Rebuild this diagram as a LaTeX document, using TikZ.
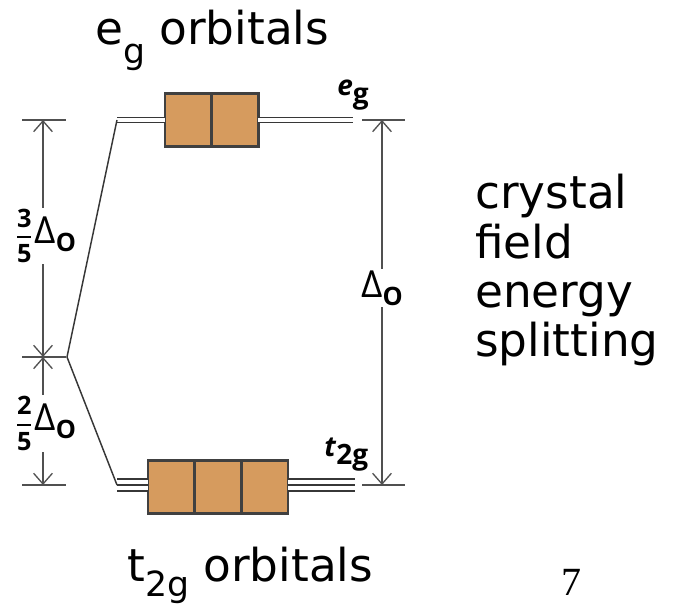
\documentclass[tikz,border=0pt]{standalone}
\usepackage{amsmath}
\usepackage{fontspec}
\setmainfont{DejaVu Sans}
\newfontfamily\symfont{Open Sans}
\newfontfamily\pagenofont{Liberation Serif}
\usetikzlibrary{arrows.meta, positioning}

\definecolor{boxorange}{RGB}{214,155,94}
\definecolor{boxedge}{RGB}{64,64,64}
\definecolor{linegrey}{RGB}{55,55,55}
\definecolor{dimgrey}{RGB}{80,80,80}

% Delta_O and the fractions of it
\newcommand{\deltao}{{\symfont\fontsize{28}{28}\selectfont Δ\raisebox{-0.4ex}{\fontsize{19}{19}\selectfont\bfseries O}}}
\newcommand{\fracpart}[2]{{\symfont\bfseries\fontsize{19}{19}\selectfont
  $\genfrac{}{}{1.6pt}{0}{\mbox{#1}}{\mbox{#2}}$\hspace{1pt}}}

\begin{document}
\begin{tikzpicture}[
    x=0.75pt, y=-0.75pt,
    orbital/.style={rectangle, draw=boxedge, line width=2pt, fill=boxorange, minimum width=35pt, minimum height=40pt, inner sep=0pt, outer sep=0pt},
    levelline/.style={draw=linegrey, line width=1.1pt},
    twofold/.style={levelline, double=white, double distance=2.8pt},
    threefold/.style={levelline, double=white, double distance=7.6pt},
    dimline/.style={draw=dimgrey, line width=1pt, {Straight Barb[length=8pt,width=14pt]}-{Straight Barb[length=8pt,width=14pt]}},
    tickline/.style={draw=dimgrey, line width=1.2pt},
    big/.style={font=\fontsize{34}{37.5}\selectfont, inner sep=0pt},
    lab/.style={fill=white, inner sep=1pt}
]
    \useasboundingbox (0,0) rectangle (675,605);

    % e_g set (two boxes)
    \node[orbital] (e1) at (188.3,120) {};
    \node[orbital, right=0pt of e1] (e2) {};

    % t_2g set (three boxes)
    \node[orbital] (t1) at (171.3,487) {};
    \node[orbital, right=0pt of t1] (t2) {};
    \node[orbital, right=0pt of t2] (t3) {};

    % Level ends and split point
    \coordinate (egL) at (117,120);
    \coordinate (egR) at (353,120);
    \coordinate (t2gL) at (117,485);
    \coordinate (t2gR) at (355,485);
    \coordinate (split) at (67,357);

    % Levels
    \draw[twofold] (egL) -- (e1.west |- egL);
    \draw[twofold] (e2.east |- egR) -- (egR);
    \draw[threefold] (t2gL) -- (t1.west |- t2gL);
    \draw[levelline] (t2gL) -- (t1.west |- t2gL);
    \draw[threefold] (t3.east |- t2gR) -- (t2gR);
    \draw[levelline] (t3.east |- t2gR) -- (t2gR);
    \draw[levelline] (egL) -- (split) -- (t2gL);

    % Level labels
    \node[anchor=base west, inner sep=0pt] (eglab) at (337,96)
        {\symfont\bfseries\fontsize{21}{21}\selectfont\textit{e}\raisebox{-0.5ex}{g}};
    \node[anchor=base west, inner sep=0pt] (t2glab) at (324,457)
        {\symfont\bfseries\fontsize{21}{21}\selectfont\textit{t}\raisebox{-0.5ex}{2g}};

    % Left dimension
    \coordinate (dimTopL) at (43,120);
    \coordinate (dimMidL) at (43,357);
    \coordinate (dimBotL) at (43,485);
    \draw[tickline] (22,120) -- (66,120);
    \draw[tickline] (22,357) -- (66,357);
    \draw[tickline] (22,485) -- (66,485);
    \draw[dimline] (dimTopL) -- node[lab, pos=0.49, xshift=2pt] (lab35) {\fracpart{3}{5}\deltao} (dimMidL);
    \draw[dimline] (dimMidL) -- node[lab, pos=0.52, xshift=2pt] (lab25) {\fracpart{2}{5}\deltao} (dimBotL);

    % Right dimension
    \coordinate (dimTopR) at (382,120);
    \coordinate (dimBotR) at (382,485);
    \draw[tickline] (362,120) -- (405,120);
    \draw[tickline] (362,485) -- (405,485);
    \draw[dimline] (dimTopR) -- node[lab, pos=0.46] (labdo) {\deltao} (dimBotR);

    % Titles
    \node[big, anchor=base west] (egtitle) at (95,45)
        {e\raisebox{-0.4em}{\fontsize{26}{26}\selectfont g} orbitals};
    \node[big, anchor=base west] (t2gtitle) at (127,582)
        {t\raisebox{-0.33em}{\fontsize{26}{26}\selectfont 2g} orbitals};
    \node[big, anchor=base west, align=left, font=\fontsize{34}{37}\selectfont] (cfes) at (475,357)
        {crystal\\field\\energy\\splitting};
    \node[anchor=base west, inner sep=0pt] (pageno) at (561,595)
        {\pagenofont\fontsize{30}{30}\selectfont 7};
\end{tikzpicture}
\end{document}
